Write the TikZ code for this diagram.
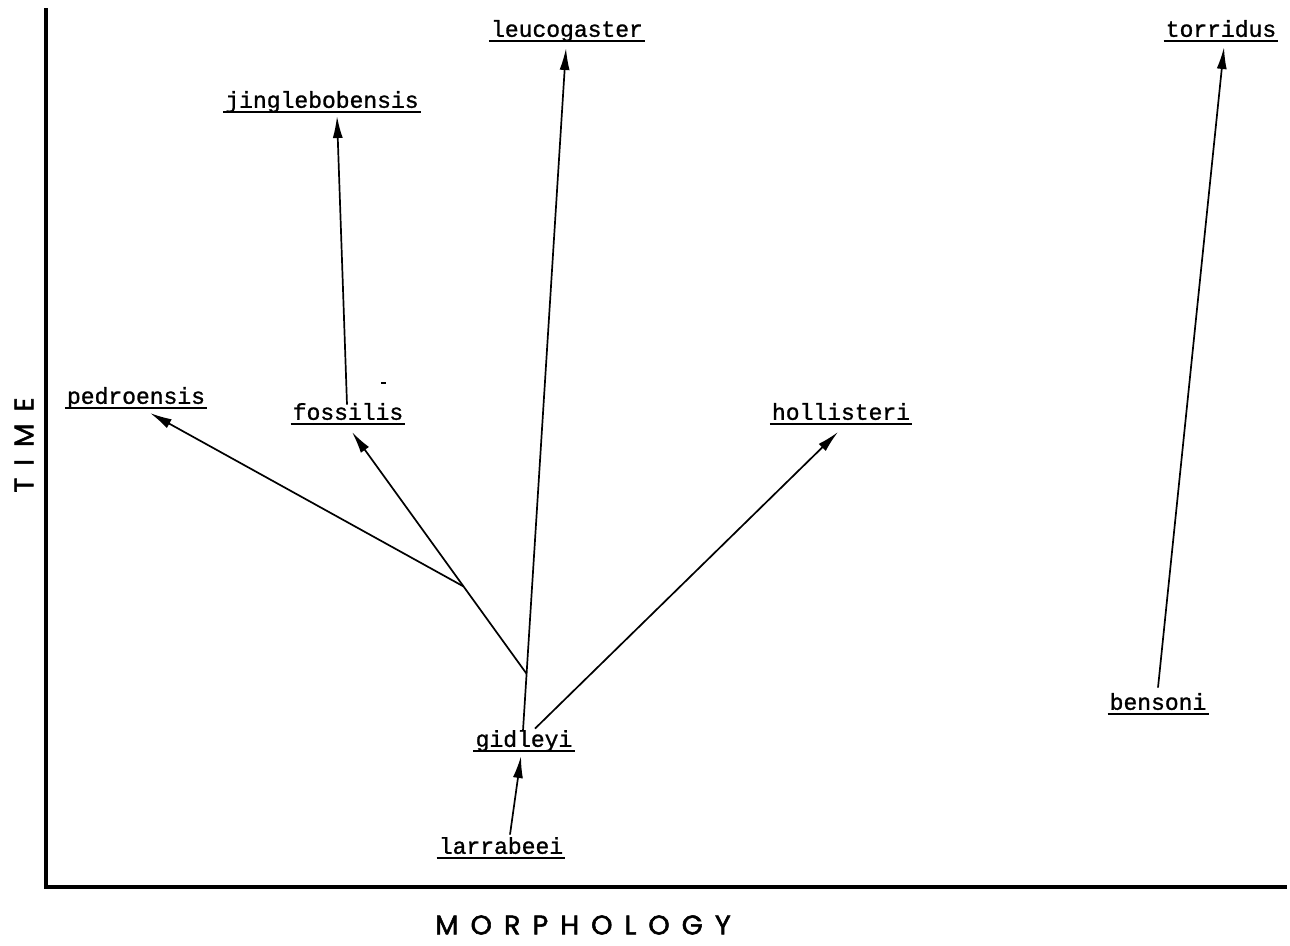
\documentclass[tikz,border=0pt]{standalone}
\usepackage{fontspec}
\usetikzlibrary{arrows.meta,calc}
\newfontfamily\spfont[FakeBold=1.2]{Liberation Mono}
\newfontfamily\axfont[LetterSpace=45,FakeBold=2]{Poppins}
\tikzset{
  sp/.style={font=\spfont\fontsize{23pt}{26pt}\selectfont, inner xsep=2pt, inner ysep=0pt,
             text height=15pt, text depth=4pt, anchor=south},
  ul/.style={line width=2.4pt},
  arr/.style={line width=1.7pt, -{Latex[length=22pt,width=10pt]}},
  plain/.style={line width=1.6pt},
  axis/.style={line width=4pt},
  axlabel/.style={font=\axfont\fontsize{27pt}{30pt}\selectfont, inner sep=0pt}
}
\begin{document}
\begin{tikzpicture}[x=1pt,y=-1pt]
\useasboundingbox (0,0) rectangle (1290,945);
% axes
\coordinate (otop) at (46,8);
\coordinate (orig) at (46,887);
\coordinate (oright) at (1287,887);
\draw[axis] (otop) -- (orig) -- (oright);
\node[axlabel, rotate=90] (time) at (24,445) {TIME};
\node[axlabel] (morph) at (583,925) {MORPHOLOGY};
% species labels
\node[sp] (leu) at (567,41) {leucogaster};
\node[sp] (tor) at (1221,41) {torridus};
\node[sp] (jin) at (322,112) {jinglebobensis};
\node[sp] (ped) at (136,408) {pedroensis};
\node[sp] (fos) at (348,424) {fossilis};
\node[sp] (hol) at (841,424) {hollisteri};
\node[sp] (gid) at (524,751) {gidleyi};
\node[sp] (lar) at (501,858) {larrabeei};
\node[sp] (ben) at (1158,714) {bensoni};
\foreach \n in {leu,tor,jin,ped,fos,hol,gid,lar,ben}
  \draw[ul] (\n.south west) -- (\n.south east);
% junctions
\coordinate (gtop) at ([xshift=-1pt,yshift=1pt]gid.north);
\coordinate (ltip) at ([xshift=-1pt,yshift=-7pt]leu.south);
\coordinate (j2) at ($(gtop)!0.0833!(ltip)$);
\coordinate (ftip) at ([xshift=4pt,yshift=-8pt]fos.south);
\coordinate (j1) at ($(j2)!0.361!(ftip)$);
% connectors
\draw[arr] ([xshift=9pt,yshift=4pt]lar.north) -- ([xshift=-3pt,yshift=-5pt]gid.south);
\draw[arr] (gtop) -- (ltip);
\draw[arr] (j2) -- (ftip);
\draw[arr] (j1) -- ([xshift=14pt,yshift=-5pt]ped.south);
\draw[arr] ([xshift=-1pt]fos.north) -- ([xshift=15pt,yshift=-4pt]jin.south);
\draw[arr] ([xshift=11pt,yshift=3pt]gid.north) -- ([xshift=-3pt,yshift=-8pt]hol.south);
\draw[arr] ([yshift=7pt]ben.north) -- ([xshift=3pt,yshift=-6pt]tor.south);
% stray mark
\coordinate (s1) at (381,383);
\coordinate (s2) at (386,383);
\draw[plain] (s1) -- (s2);
\end{tikzpicture}
\end{document}
